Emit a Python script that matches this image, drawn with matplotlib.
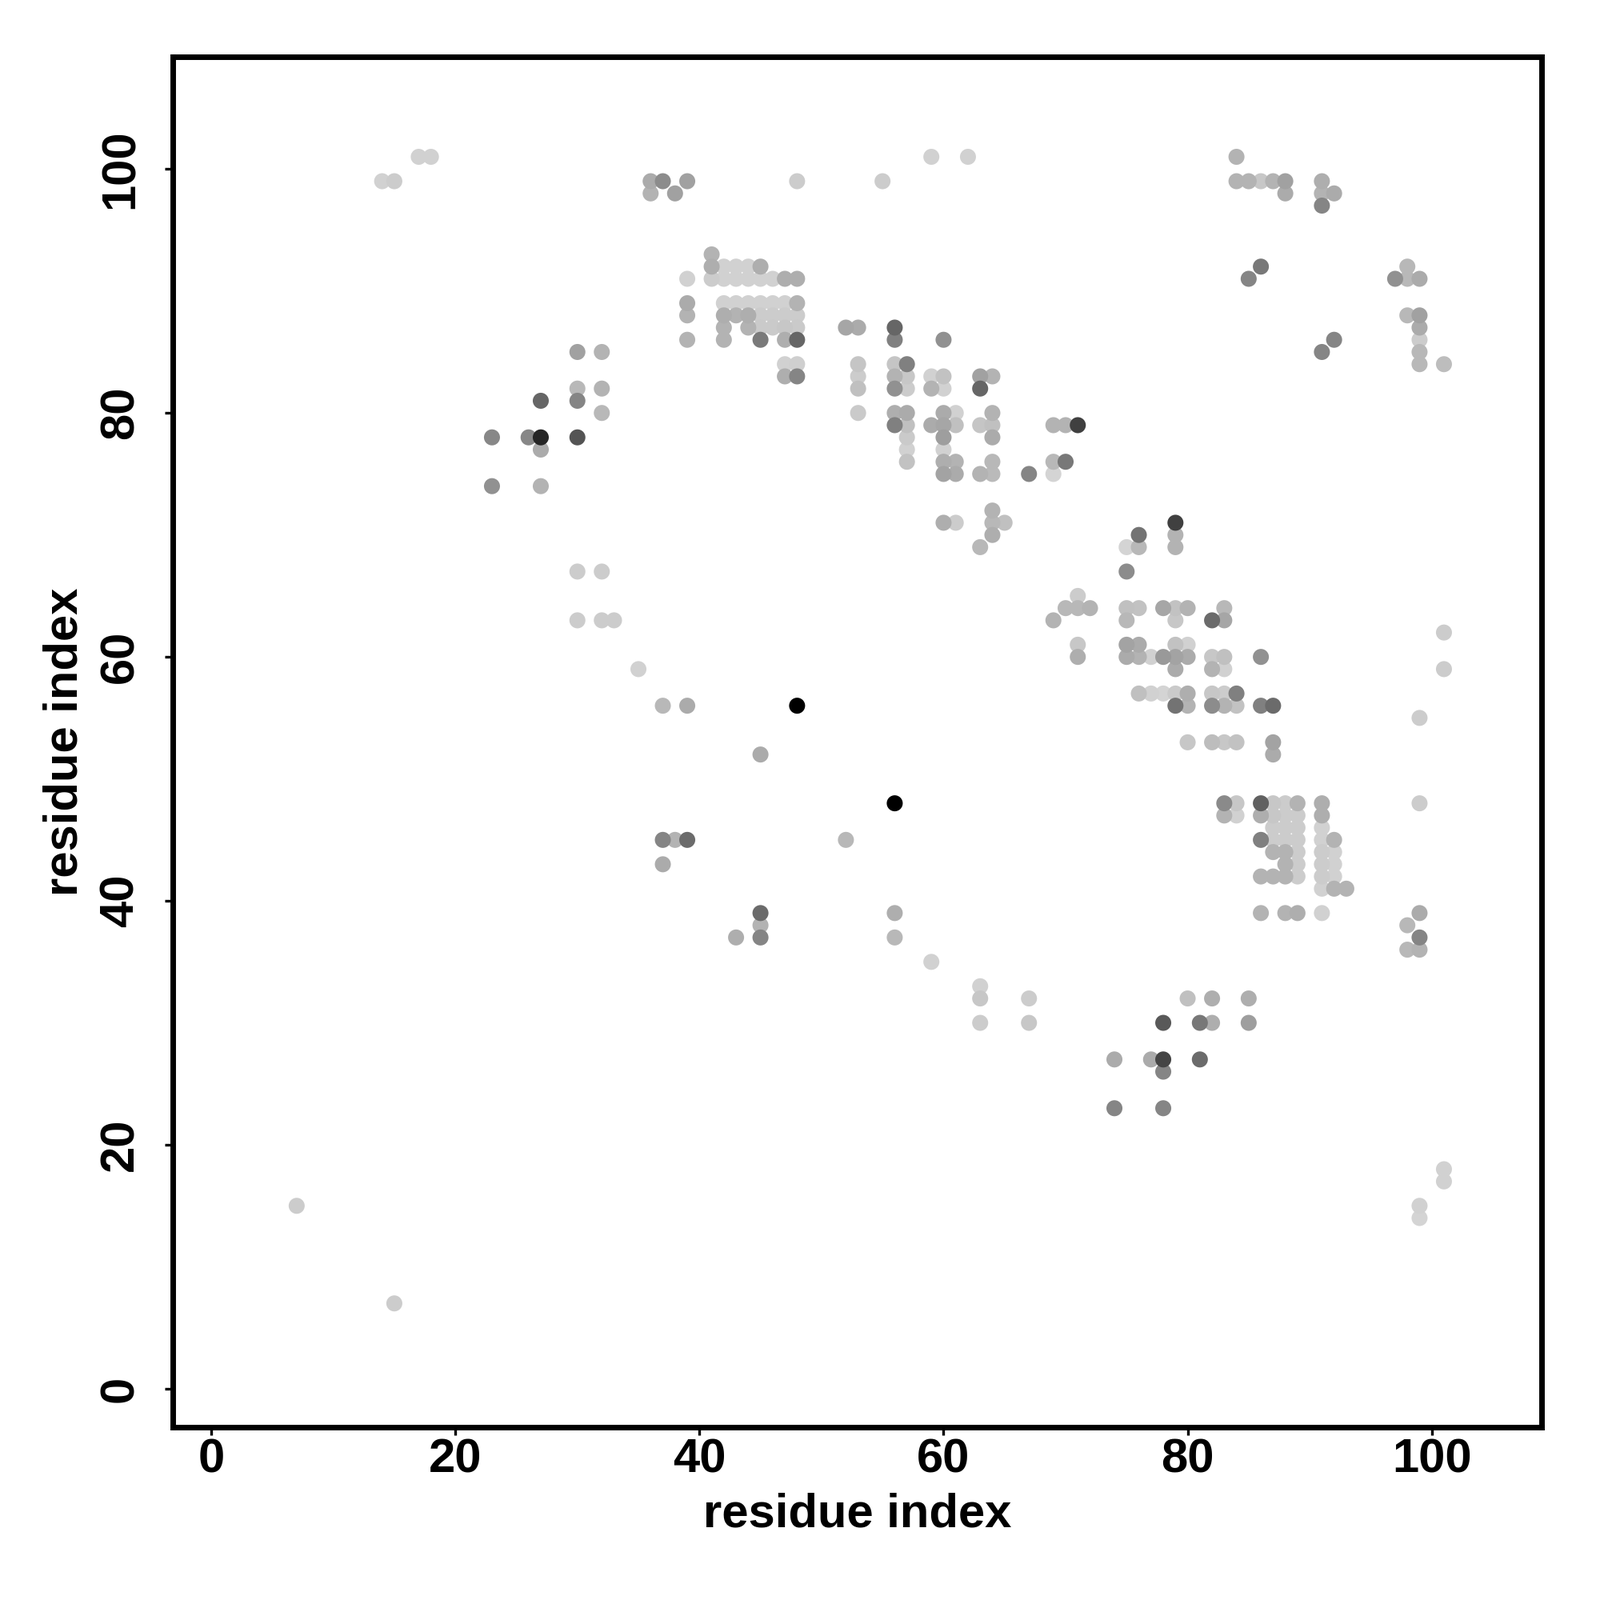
import numpy as np
import matplotlib
matplotlib.use('Agg')
import matplotlib.pyplot as plt

# one entry per row of the contact map: row index, residues in that row, shade (0 black, 1 white)
row_y = [101, 99, 98, 97, 93, 92, 91, 89, 88, 87, 86, 85, 84, 83, 82, 81, 80, 79, 78, 77, 76, 75, 74,
         72, 71, 70, 69, 67, 65, 64, 63, 62, 61, 60, 59, 57, 56, 55, 53, 52, 48, 47, 46, 45, 44, 43, 42, 41,
         39, 38, 37, 36, 35, 33, 32, 30, 27, 26, 23, 18, 17, 15, 14, 7]
row_x = [
    [17, 18, 59, 62, 84],
    [14, 15, 36, 37, 39, 48, 55, 84, 85, 86, 87, 88, 91],
    [36, 38, 88, 91, 92],
    [91],
    [41],
    [41, 42, 43, 44, 45, 86, 98],
    [39, 41, 42, 43, 44, 45, 46, 47, 48, 85, 97, 98, 99],
    [39, 42, 43, 44, 45, 46, 47, 48],
    [39, 42, 43, 44, 45, 46, 47, 48, 98, 99],
    [42, 44, 45, 46, 47, 48, 52, 53, 56, 99],
    [39, 42, 45, 47, 48, 56, 60, 92, 99],
    [30, 32, 91, 99],
    [47, 48, 53, 56, 57, 99, 101],
    [47, 48, 53, 56, 57, 59, 60, 63, 64],
    [30, 32, 53, 56, 57, 59, 60, 63],
    [27, 30],
    [32, 53, 56, 57, 60, 61, 64],
    [56, 57, 59, 60, 61, 63, 64, 69, 70, 71],
    [23, 26, 27, 30, 57, 60, 64],
    [27, 57, 60],
    [57, 60, 61, 64, 69, 70],
    [60, 61, 63, 64, 67, 69],
    [23, 27],
    [64],
    [60, 61, 64, 65, 79],
    [64, 76, 79],
    [63, 75, 76, 79],
    [30, 32, 75],
    [71],
    [70, 71, 72, 75, 76, 78, 79, 80, 83],
    [30, 32, 33, 69, 75, 79, 82, 83],
    [101],
    [71, 75, 76, 79, 80],
    [71, 75, 76, 77, 78, 79, 80, 82, 83, 86],
    [35, 79, 82, 83, 101],
    [76, 77, 78, 79, 80, 82, 83, 84],
    [37, 39, 48, 79, 80, 82, 83, 84, 86, 87],
    [99],
    [80, 82, 83, 84, 87],
    [45, 87],
    [56, 83, 84, 86, 87, 88, 89, 91, 99],
    [83, 84, 86, 87, 88, 89, 91],
    [87, 88, 89, 91],
    [37, 38, 39, 52, 86, 87, 88, 89, 91, 92],
    [87, 88, 89, 91, 92],
    [37, 88, 89, 91, 92],
    [86, 87, 88, 89, 91, 92],
    [91, 92, 93],
    [45, 56, 86, 88, 89, 91, 99],
    [45, 98],
    [43, 45, 56, 99],
    [98, 99],
    [59],
    [63],
    [63, 67, 80, 82, 85],
    [63, 67, 78, 81, 82, 85],
    [74, 77, 78, 81],
    [78],
    [74, 78],
    [101],
    [101],
    [7, 99],
    [99],
    [15],
]
row_shade = [
    [.82, .82, .82, .82, .7],
    [.82, .8, .67, .55, .63, .8, .8, .7, .7, .78, .7, .63, .68],
    [.7, .63, .67, .7, .67],
    [.52],
    [.7],
    [.68, .82, .82, .82, .68, .47, .72],
    [.82, .8, .82, .82, .82, .82, .82, .68, .68, .52, .57, .72, .67],
    [.67, .82, .82, .82, .82, .82, .82, .7],
    [.7, .68, .7, .68, .8, .8, .8, .8, .72, .63],
    [.7, .7, .79, .79, .78, .79, .65, .67, .4, .67],
    [.7, .7, .48, .68, .4, .5, .57, .52, .8],
    [.63, .7, .52, .72],
    [.82, .81, .77, .77, .5, .72, .74],
    [.68, .52, .8, .7, .78, .82, .76, .63, .7],
    [.72, .7, .75, .57, .8, .7, .82, .4],
    [.4, .52],
    [.72, .79, .68, .67, .67, .82, .7],
    [.5, .75, .67, .65, .75, .77, .75, .7, .7, .25],
    [.53, .53, .15, .33, .79, .62, .67],
    [.67, .82, .82],
    [.76, .68, .7, .72, .72, .47],
    [.64, .67, .7, .73, .52, .83],
    [.57, .7],
    [.7],
    [.68, .8, .72, .75, .25],
    [.68, .45, .7],
    [.72, .83, .72, .7],
    [.8, .8, .55],
    [.8],
    [.72, .72, .7, .75, .76, .65, .76, .7, .72],
    [.8, .8, .8, .7, .72, .78, .42, .65],
    [.8],
    [.78, .64, .67, .76, .82],
    [.68, .67, .7, .82, .6, .64, .67, .78, .75, .57],
    [.82, .67, .7, .82, .8],
    [.75, .82, .83, .79, .68, .78, .8, .5],
    [.72, .67, .0, .45, .7, .55, .7, .76, .5, .42],
    [.8],
    [.78, .74, .78, .76, .64],
    [.67, .67],
    [.0, .54, .78, .38, .78, .8, .7, .68, .8],
    [.7, .82, .68, .78, .8, .8, .68],
    [.8, .8, .8, .82],
    [.52, .7, .42, .72, .5, .8, .8, .8, .82, .7],
    [.7, .7, .8, .8, .82],
    [.67, .7, .8, .8, .82],
    [.7, .7, .7, .8, .8, .82],
    [.82, .7, .7],
    [.42, .68, .7, .7, .68, .82, .67],
    [.7, .72],
    [.68, .52, .72, .52],
    [.72, .7],
    [.82],
    [.82],
    [.78, .8, .75, .68, .68],
    [.8, .78, .35, .47, .68, .62],
    [.67, .67, .27, .42],
    [.52],
    [.52, .52],
    [.82],
    [.82],
    [.8, .82],
    [.83],
    [.8],
]
tick_values = [0, 20, 40, 60, 80, 100]

plt.rcParams['font.family'] = ['Liberation Sans', 'DejaVu Sans']
plt.rcParams['font.weight'] = 'bold'

x = np.concatenate(row_x)
y = np.concatenate([[r] * len(v) for r, v in zip(row_y, row_x)])
shade = np.concatenate(row_shade)

# darkest points end up on top
order = np.argsort(-shade)

fig = plt.figure(figsize=(10, 10), dpi=200)
ax = fig.add_axes([0.108, 0.108, 0.8555, 0.8565])
ax.scatter(x[order], y[order], c=shade[order], cmap='gray', vmin=0, vmax=1, s=52, linewidths=0)

ax.set_xlim(-3.15, 109)
ax.set_ylim(-3.15, 109.2)
ax.set_xticks(tick_values)
ax.set_yticks(tick_values)
ax.tick_params(axis='both', length=3.5, width=1.2, labelsize=21.5)
ax.tick_params(axis='x', pad=1.5)
ax.tick_params(axis='y', pad=10)
for lab in ax.get_yticklabels():
    lab.set_rotation(90)
    lab.set_va('center')
for sp in ax.spines.values():
    sp.set_linewidth(2.5)

ax.set_xlabel('residue index', fontsize=21.5, fontweight='bold', labelpad=4.5)
ax.set_ylabel('residue index', fontsize=21.5, fontweight='bold', labelpad=5.5)

plt.savefig('out.png')
